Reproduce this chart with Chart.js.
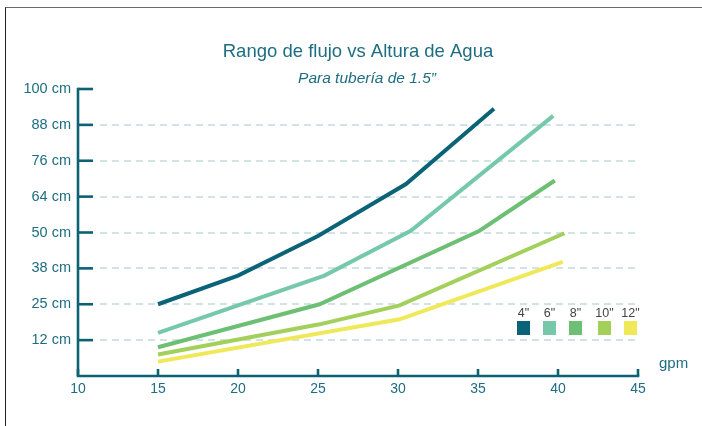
<!DOCTYPE html>
<html>
<head>
<meta charset="utf-8">
<title>Rango de flujo vs Altura de Agua</title>
<script src="https://cdn.jsdelivr.net/npm/chart.js@4.4.1/dist/chart.umd.min.js"></script>
<style>
  html, body { margin: 0; padding: 0; background: #fff; }
  #wrap { position: relative; width: 702px; height: 426px; overflow: hidden; }
  #frame {
    position: absolute; left: 5px; top: 7px; width: 700px; height: 425px;
    border-top: 1.5px solid #6b6b6b; border-left: 1.5px solid #222;
  }
  canvas { position: absolute; left: 0; top: 0; }
</style>
</head>
<body>
<div id="wrap">
  <div id="frame"></div>
  <canvas id="flowChart" width="702" height="426"></canvas>
</div>
<script>
// altura: niveles del eje (1 = 12 cm ... 8 = 100 cm), espaciados igual
const yLabels = ['12 cm', '25 cm', '38 cm', '50 cm', '64 cm', '76 cm', '88 cm', '100 cm'];
const xTicks = [10, 15, 20, 25, 30, 35, 40, 45];

const sizes = ['4"', '6"', '8"', '10"', '12"'];
const colors = ['#0b6377', '#76c8aa', '#6dbf73', '#a3cf5b', '#efe95a'];

// gpm y nivel para cada diámetro
const gpm4 = [15, 20, 25, 30.5, 36];
const lvl4 = [2.0, 2.8, 3.9, 5.35, 7.45];
const gpm6 = [15, 25.4, 30.8, 39.7];
const lvl6 = [1.2, 2.8, 4.05, 7.25];
const gpm8 = [15, 25.1, 35.1, 39.8];
const lvl8 = [0.8, 2.0, 4.05, 5.45];
const gpm10 = [15, 25.1, 30.1, 40.4];
const lvl10 = [0.6, 1.44, 1.97, 3.98];
const gpm12 = [15, 30.1, 40.3];
const lvl12 = [0.4, 1.58, 3.18];

const AXIS = '#0b6275';
const TEXT = '#1e6d80';
const FONT = '"Liberation Sans", Arial, Helvetica, sans-serif';

function pts(xs, ys) {
    return xs.map((x, i) => ({ x: x, y: ys[i] }));
}

const series = [[gpm4, lvl4], [gpm6, lvl6], [gpm8, lvl8], [gpm10, lvl10], [gpm12, lvl12]];

// ejes, rejilla punteada, títulos y leyenda
const decoPlugin = {
    id: 'deco',
    beforeDatasetsDraw(chart) {
        const { ctx, scales: { x, y } } = chart;
        ctx.save();
        ctx.strokeStyle = '#d2e3e7';
        ctx.lineWidth = 2;
        ctx.setLineDash([7, 5]);
        for (let v = 1; v < yLabels.length; v++) {
            const py = Math.round(y.getPixelForValue(v));
            ctx.beginPath();
            ctx.moveTo(x.left + 22, py);
            ctx.lineTo(x.right + 2, py);
            ctx.stroke();
        }
        ctx.restore();
    },
    afterDatasetsDraw(chart) {
        const { ctx, scales: { x, y } } = chart;
        const left = x.getPixelForValue(10);
        const bottom = y.getPixelForValue(0);
        const top = y.getPixelForValue(8);
        const right = x.getPixelForValue(45);
        ctx.save();
        ctx.strokeStyle = AXIS;
        ctx.lineWidth = 2.6;
        ctx.lineCap = 'butt';
        ctx.beginPath();
        ctx.moveTo(left, top - 1.3);
        ctx.lineTo(left, bottom);
        ctx.lineTo(right + 1.3, bottom);
        ctx.stroke();
        // marcas del eje y hacia dentro
        for (let v = 1; v <= yLabels.length; v++) {
            const py = y.getPixelForValue(v);
            ctx.beginPath();
            ctx.moveTo(left, py);
            ctx.lineTo(left + 15, py);
            ctx.stroke();
        }
        // marcas del eje x hacia arriba
        xTicks.forEach(t => {
            const px = x.getPixelForValue(t);
            ctx.beginPath();
            ctx.moveTo(px, bottom);
            ctx.lineTo(px, bottom - 7);
            ctx.stroke();
        });

        ctx.fillStyle = TEXT;
        ctx.textAlign = 'center';
        ctx.textBaseline = 'alphabetic';
        ctx.font = '18.5px ' + FONT;
        ctx.fillText('Rango de flujo vs Altura de Agua', 358, 57);
        ctx.font = 'italic 15.5px ' + FONT;
        ctx.fillText('Para tubería de 1.5”', 367, 83);
        ctx.textAlign = 'left';
        ctx.font = '15px ' + FONT;
        ctx.fillText('gpm', 659, 368);

        // leyenda: texto encima del cuadro
        const boxX = [517, 543, 569, 598, 624];
        chart.data.datasets.forEach((ds, i) => {
            ctx.fillStyle = ds.borderColor;
            ctx.fillRect(boxX[i], 321, 13, 14);
            ctx.fillStyle = '#444';
            ctx.font = '12.5px ' + FONT;
            ctx.textAlign = 'center';
            ctx.fillText(ds.label, boxX[i] + 6.5, 317);
        });
        ctx.restore();
    }
};

const ctx = document.getElementById('flowChart').getContext('2d');
const flowChart = new Chart(ctx, {
    type: 'line',
    data: {
        datasets: series.map((s, i) => ({
            label: sizes[i],
            data: pts(s[0], s[1]),
            borderColor: colors[i],
            backgroundColor: colors[i],
            borderWidth: 4,
            pointRadius: 0,
            fill: false,
            tension: 0
        }))
    },
    options: {
        responsive: false,
        animation: false,
        devicePixelRatio: 1,
        layout: { padding: { left: 0, top: 89, right: 64, bottom: 0 } },
        plugins: {
            legend: { display: false },
            title: { display: false },
            tooltip: { enabled: false }
        },
        scales: {
            x: {
                type: 'linear',
                min: 10,
                max: 45,
                grid: { display: false, drawTicks: false, tickLength: 0 },
                border: { display: false },
                afterFit: s => { s.height = 50; },
                ticks: {
                    stepSize: 5,
                    color: TEXT,
                    padding: 5,
                    font: { family: FONT, size: 14 }
                }
            },
            y: {
                type: 'linear',
                min: 0,
                max: 8,
                grid: { display: false, drawTicks: false, tickLength: 0 },
                border: { display: false },
                afterFit: s => { s.width = 78; },
                ticks: {
                    stepSize: 1,
                    color: TEXT,
                    padding: 7,
                    font: { family: FONT, size: 14.5 },
                    callback: v => (v >= 1 ? yLabels[v - 1] : null)
                }
            }
        }
    },
    plugins: [decoPlugin]
});
</script>
</body>
</html>
